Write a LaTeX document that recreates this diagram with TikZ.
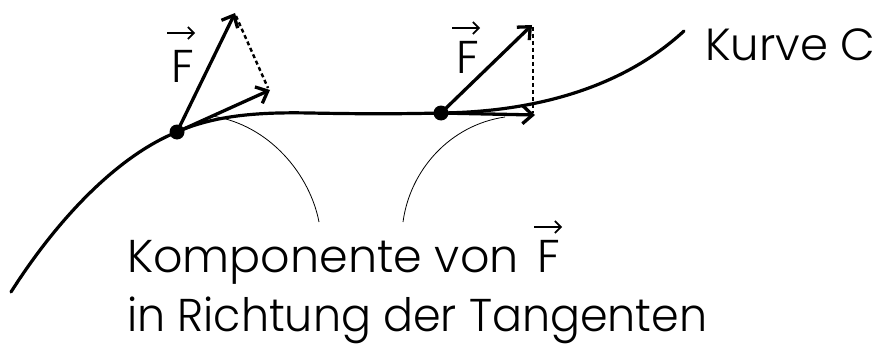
\documentclass[tikz,border=0pt]{standalone}
\usepackage{fontspec}
\setmainfont{Poppins Light}
\usetikzlibrary{arrows.meta}
\begin{document}
\begin{tikzpicture}[x=1pt,y=-1pt,
  curve/.style={line width=3.2pt,line cap=round},
  vecarrow/.style={line width=3.3pt,-{Straight Barb[length=10pt,width=18pt,line width=3.3pt]}},
  dashline/.style={line width=2.4pt,dash pattern=on 4pt off 3pt},
  thin arc/.style={line width=0.8pt},
  overarrow/.style={line width=1.6pt,-{Straight Barb[length=6pt,width=12pt,line width=1.6pt]}},
  lbl/.style={anchor=base west,inner sep=0pt,font=\fontsize{46}{52}\selectfont},
  dot/.style={circle,fill=black,inner sep=0pt,minimum size=15pt}]
\useasboundingbox (0,0) rectangle (878,345);
% curve
\coordinate (c0) at (11,292);
\coordinate (c3) at (684,31);
\node[dot] (p1) at (177,132) {};
\node[dot] (p2) at (441,113) {};
\draw[curve] (c0) .. controls (60,215) and (120,155) .. (p1.center)
  .. controls (215,115) and (260,112) .. (310,113)
  .. controls (360,114) and (400,114) .. (p2.center)
  .. controls (530,112) and (620,90) .. (c3);
% vectors at p1
\coordinate (f1) at (235,13);
\coordinate (t1) at (270,90);
\draw[vecarrow] (p1.center) -- (f1);
\draw[vecarrow] (p1.center) -- (t1);
\coordinate (d1a) at (236,16);
\coordinate (d1b) at (268,88);
\draw[dashline] (d1a) -- (d1b);
% vectors at p2
\coordinate (f2) at (532,25);
\coordinate (t2) at (535,115);
\draw[vecarrow] (p2.center) -- (f2);
\draw[vecarrow] (p2.center) -- (t2);
\coordinate (d2a) at (533,27);
\coordinate (d2b) at (533,113);
\draw[dashline] (d2a) -- (d2b);
% thin arcs
\coordinate (a1s) at (212,116);
\coordinate (a1e) at (319,222);
\coordinate (a2s) at (403,222);
\coordinate (a2e) at (505,117);
\draw[thin arc] (a1s) .. controls (270,125) and (310,175) .. (a1e);
\draw[thin arc] (a2s) .. controls (410,170) and (450,125) .. (a2e);
% labels
\node[lbl] (F1) at (171,82) {F};
\coordinate (F1a) at (167,33);
\coordinate (F1b) at (195,33);
\draw[overarrow] (F1a) -- (F1b);
\node[lbl] (F2) at (456,74) {F};
\coordinate (F2a) at (452,28);
\coordinate (F2b) at (480,28);
\draw[overarrow] (F2a) -- (F2b);
\node[lbl,font=\fontsize{45}{52}\selectfont] (kurve) at (705,60) {Kurve C};
\node[lbl] (komp) at (127,272) {Komponente von};
\node[lbl] (F3) at (537,272) {F};
\coordinate (F3a) at (534,227);
\coordinate (F3b) at (562,227);
\draw[overarrow] (F3a) -- (F3b);
\node[lbl] (richt) at (127,331) {\scalebox{0.965}[1]{in Richtung der Tangenten}};
\end{tikzpicture}
\end{document}
